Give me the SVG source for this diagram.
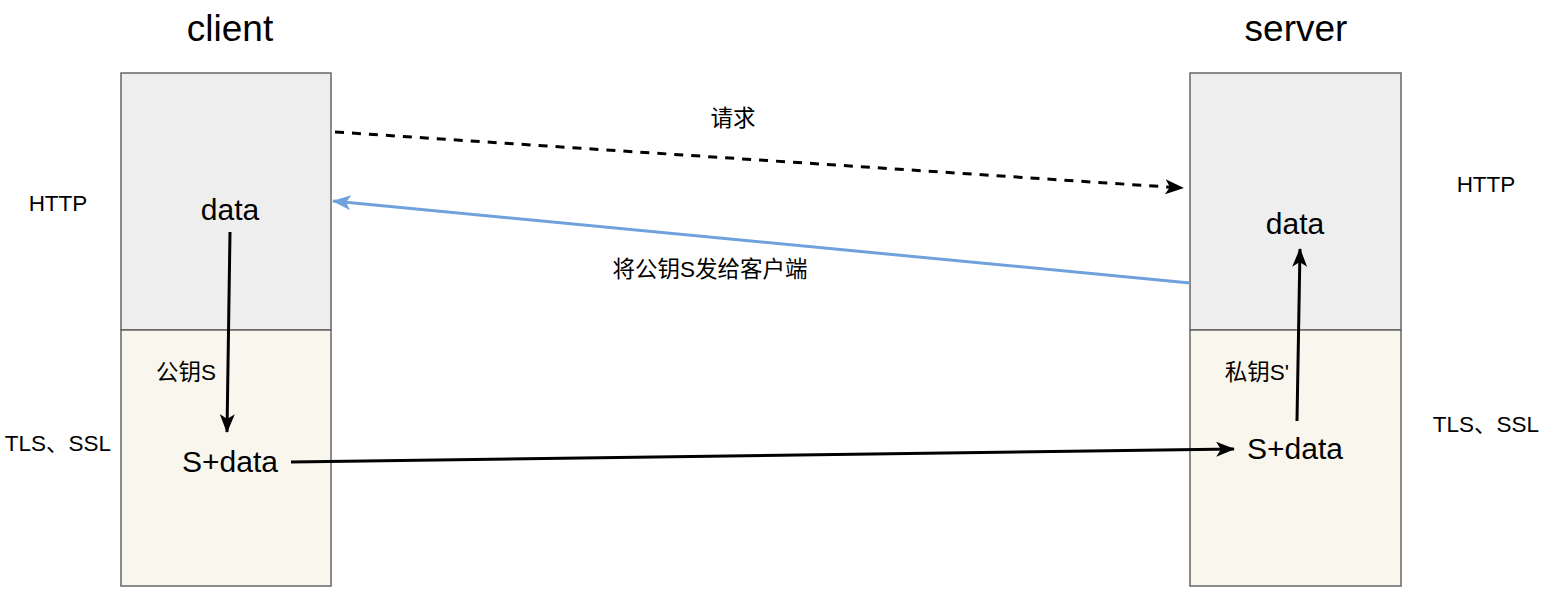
<svg xmlns="http://www.w3.org/2000/svg" width="1549" height="608" viewBox="0 0 1549 608">
<style>
text{font-family:"Liberation Sans","Noto Sans CJK SC",Arial,sans-serif;fill:#000;text-anchor:middle}
.t{font-size:37px}
.m{font-size:30px}
.s{font-size:22.5px}
.up{fill:#eeeeee;stroke:#666666;stroke-width:1.5}
.lo{fill:#f9f7ed;stroke:#666666;stroke-width:1.5}
.c{fill:none;stroke:#000;stroke-width:3}
</style>
<defs>
<marker id="ab" viewBox="0 0 20 16" markerWidth="19" markerHeight="15" refX="19" refY="8" orient="auto" markerUnits="userSpaceOnUse">
<path d="M0,0 L20,8 L0,16 L5,8 Z" fill="#000"/>
</marker>
<marker id="abl" viewBox="0 0 20 16" markerWidth="19" markerHeight="15" refX="19" refY="8" orient="auto" markerUnits="userSpaceOnUse">
<path d="M0,0 L20,8 L0,16 L5,8 Z" fill="#6fa1dc"/>
</marker>
</defs>
<g id="client">
<rect class="up" x="121" y="73" width="210" height="257"/>
<rect class="lo" x="121" y="330" width="210" height="256"/>
<text class="t" x="230" y="41">client</text>
<text class="m" x="230" y="220">data</text>
<text class="s" x="186" y="380">公钥S</text>
<text class="m" x="230" y="472">S+data</text>
</g>
<g id="server">
<rect class="up" x="1190" y="73" width="211" height="257"/>
<rect class="lo" x="1190" y="330" width="211" height="256"/>
<text class="t" x="1296" y="41">server</text>
<text class="m" x="1295" y="234">data</text>
<text class="s" x="1257" y="380">私钥S'</text>
<text class="m" x="1295" y="459">S+data</text>
</g>
<g id="labels-left">
<text class="s" x="58" y="211">HTTP</text>
<text class="s" x="58" y="451">TLS、SSL</text>
</g>
<g id="labels-right">
<text class="s" x="1486" y="192">HTTP</text>
<text class="s" x="1486" y="432">TLS、SSL</text>
</g>
<g id="connectors">
<line class="c" x1="335" y1="132" x2="1183" y2="188" stroke-dasharray="9 8" marker-end="url(#ab)"/>
<line x1="1190" y1="283" x2="333" y2="201" fill="none" stroke="#6fa1dc" stroke-width="3" marker-end="url(#abl)"/>
<line class="c" x1="230" y1="232" x2="227" y2="432" marker-end="url(#ab)"/>
<line class="c" x1="291" y1="462" x2="1234" y2="449" marker-end="url(#ab)"/>
<line class="c" x1="1297" y1="421" x2="1300" y2="249" marker-end="url(#ab)"/>
<text class="s" x="733" y="126">请求</text>
<text class="s" x="710" y="277">将公钥S发给客户端</text>
</g>
</svg>
